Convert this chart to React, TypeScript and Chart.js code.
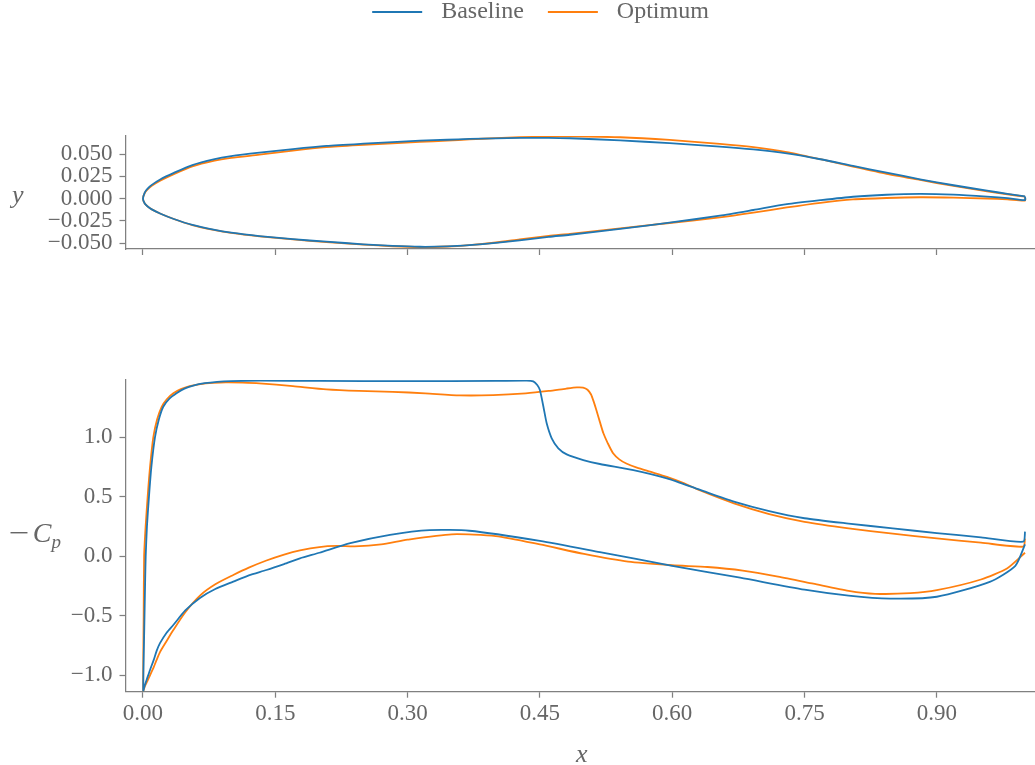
import React, { useEffect, useRef } from "react";
import { Chart, registerables } from "chart.js";

Chart.register(...registerables);

// ---- Airfoil geometry (chord fraction x, thickness y) ----
const geomX = [0, 0.002, 0.005, 0.01, 0.02, 0.035, 0.056, 0.08, 0.1, 0.132, 0.17, 0.208, 0.25, 0.283, 0.314, 0.345, 0.37, 0.4, 0.427, 0.46, 0.484, 0.541, 0.597, 0.654, 0.692, 0.73, 0.768, 0.805, 0.843, 0.881, 0.919, 0.957, 0.98, 1.0];
const baseUpperY = [0, 0.0069, 0.011, 0.0155, 0.0219, 0.029, 0.0378, 0.0442, 0.0478, 0.0517, 0.0557, 0.0592, 0.0618, 0.0636, 0.0651, 0.0662, 0.0671, 0.0678, 0.0683, 0.0684, 0.0679, 0.0655, 0.0623, 0.0585, 0.0553, 0.0508, 0.0443, 0.0368, 0.0293, 0.0218, 0.0151, 0.009, 0.0055, 0.0025];
const baseLowerY = [0, -0.0054, -0.0085, -0.012, -0.0169, -0.0228, -0.0294, -0.0348, -0.0382, -0.042, -0.0455, -0.0483, -0.0512, -0.053, -0.054, -0.0536, -0.0522, -0.0497, -0.0468, -0.0428, -0.0405, -0.034, -0.027, -0.019, -0.0127, -0.0062, -0.0017, 0.0022, 0.0044, 0.0053, 0.0045, 0.0024, 0.0007, -0.0015];
const optUpperY = [0, 0.0064, 0.0102, 0.0144, 0.0204, 0.0276, 0.0363, 0.0425, 0.0458, 0.0494, 0.054, 0.0578, 0.0604, 0.0622, 0.0637, 0.0652, 0.0666, 0.068, 0.069, 0.0698, 0.07, 0.069, 0.066, 0.0616, 0.0579, 0.0524, 0.0443, 0.036, 0.0278, 0.021, 0.0143, 0.0083, 0.005, 0.0022];
const optLowerY = [0, -0.0054, -0.0085, -0.012, -0.0169, -0.0228, -0.0296, -0.035, -0.0385, -0.0423, -0.0458, -0.0487, -0.0515, -0.0534, -0.0543, -0.0537, -0.0521, -0.0492, -0.0458, -0.0418, -0.0395, -0.0334, -0.0273, -0.021, -0.0157, -0.0098, -0.0046, -0.0008, 0.0008, 0.0016, 0.0012, 0.0002, -0.0008, -0.0022];

// ---- Pressure distribution (-Cp) ----
const baseCpUpperX = [0.0003, 0.0015, 0.0025, 0.0031, 0.0045, 0.0068, 0.0095, 0.0136, 0.018, 0.023, 0.03, 0.038, 0.047, 0.057, 0.07, 0.084, 0.1, 0.133, 0.2, 0.3, 0.4, 0.435, 0.4425, 0.447, 0.45, 0.454, 0.4577, 0.4634, 0.4709, 0.4804, 0.4992, 0.518, 0.556, 0.594, 0.631, 0.67, 0.71, 0.75, 0.8, 0.85, 0.9, 0.95, 0.998, 1.0];
const baseCpUpper = [-1.13, -0.6, -0.2, 0.0, 0.25, 0.5, 0.75, 1.0, 1.15, 1.257, 1.325, 1.37, 1.41, 1.435, 1.455, 1.467, 1.473, 1.476, 1.474, 1.472, 1.474, 1.476, 1.47, 1.44, 1.397, 1.257, 1.118, 0.992, 0.908, 0.857, 0.809, 0.776, 0.725, 0.655, 0.56, 0.46, 0.38, 0.32, 0.275, 0.235, 0.195, 0.16, 0.123, 0.207];
const baseCpLowerX = [0.0003, 0.002, 0.005, 0.008, 0.012, 0.0155, 0.0193, 0.027, 0.0344, 0.048, 0.0646, 0.082, 0.1024, 0.12, 0.14, 0.16, 0.178, 0.2, 0.235, 0.28, 0.325, 0.37, 0.45, 0.518, 0.6, 0.677, 0.75, 0.8, 0.847, 0.9, 0.96, 0.989, 1.0];
const baseCpLower = [-1.13, -1.085, -1.02, -0.955, -0.875, -0.795, -0.73, -0.64, -0.577, -0.455, -0.35, -0.275, -0.213, -0.16, -0.115, -0.065, -0.017, 0.03, 0.11, 0.18, 0.22, 0.215, 0.13, 0.036, -0.08, -0.18, -0.28, -0.33, -0.355, -0.34, -0.215, -0.08, 0.1];
const optCpUpperX = [0.0003, 0.0008, 0.0013, 0.003, 0.0053, 0.008, 0.0117, 0.016, 0.0212, 0.027, 0.0344, 0.043, 0.053, 0.065, 0.08, 0.094, 0.113, 0.132, 0.17, 0.208, 0.245, 0.283, 0.32, 0.359, 0.397, 0.434, 0.46, 0.48, 0.492, 0.499, 0.504, 0.508, 0.511, 0.514, 0.518, 0.522, 0.527, 0.533, 0.54, 0.548, 0.56, 0.575, 0.594, 0.613, 0.631, 0.67, 0.71, 0.75, 0.8, 0.85, 0.9, 0.95, 0.998, 1.0];
const optCpUpper = [-1.13, -0.5, 0.0, 0.25, 0.5, 0.75, 1.0, 1.15, 1.257, 1.32, 1.37, 1.405, 1.43, 1.447, 1.457, 1.462, 1.46, 1.454, 1.43, 1.403, 1.39, 1.383, 1.37, 1.353, 1.355, 1.37, 1.39, 1.41, 1.42, 1.418, 1.4, 1.36, 1.3, 1.23, 1.13, 1.034, 0.95, 0.866, 0.815, 0.78, 0.745, 0.711, 0.668, 0.615, 0.555, 0.445, 0.355, 0.29, 0.235, 0.19, 0.15, 0.115, 0.081, 0.15];
const optCpLowerX = [0.0003, 0.002, 0.005, 0.008, 0.012, 0.0155, 0.0193, 0.027, 0.0344, 0.048, 0.0646, 0.082, 0.1024, 0.12, 0.14, 0.16, 0.178, 0.2, 0.22, 0.24, 0.27, 0.3, 0.35, 0.4, 0.45, 0.5, 0.55, 0.6, 0.64, 0.68, 0.72, 0.76, 0.8, 0.83, 0.87, 0.9, 0.95, 0.98, 1.0];
const optCpLower = [-1.13, -1.095, -1.05, -1.0, -0.935, -0.87, -0.805, -0.71, -0.62, -0.47, -0.33, -0.235, -0.157, -0.095, -0.035, 0.015, 0.05, 0.078, 0.087, 0.083, 0.1, 0.14, 0.185, 0.17, 0.1, 0.02, -0.045, -0.075, -0.09, -0.12, -0.17, -0.23, -0.29, -0.315, -0.31, -0.285, -0.195, -0.1, 0.03];

// ---- Axis ticks ----
const xTicks = [0, 0.15, 0.3, 0.45, 0.6, 0.75, 0.9];
const shapeTicks = [-0.05, -0.025, 0, 0.025, 0.05];
const cpTicks = [-1.0, -0.5, 0.0, 0.5, 1.0];

const FONT = "'Liberation Serif', 'DejaVu Serif', serif";
const TEXT = "#666666";
const SPINE = "#808080";
const BLUE = "#1f77b4";
const ORANGE = "#ff7f0e";
const LINE_W = 1.8;

const X_MIN = -0.0198;
const X_MAX = 1.0113;

function fmt(v: number, digits: number): string {
  const s = Math.abs(v).toFixed(digits);
  return v < -1e-9 ? "\u2212" + s : s;
}

// Closed outline: upper surface trailing edge -> leading edge, then lower surface back to trailing edge.
function outline(ux: number[], uy: number[], lx: number[], ly: number[], close: boolean) {
  const pts: { x: number; y: number }[] = [];
  for (let i = ux.length - 1; i >= 0; i--) pts.push({ x: ux[i], y: uy[i] });
  for (let i = 1; i < lx.length; i++) pts.push({ x: lx[i], y: ly[i] });
  if (close) pts.push({ x: ux[ux.length - 1], y: uy[uy.length - 1] });
  return pts;
}

function legendSwatch(color: string): HTMLCanvasElement {
  const c = document.createElement("canvas");
  c.width = 81;
  c.height = 6;
  const g = c.getContext("2d")!;
  g.strokeStyle = color;
  g.lineWidth = LINE_W;
  g.beginPath();
  g.moveTo(24, 3);
  g.lineTo(74, 3);
  g.stroke();
  return c;
}

const tickFont = { family: FONT, size: 23 };

function xScale(showLabels: boolean, height: number) {
  return {
    type: "linear" as const,
    min: X_MIN,
    max: X_MAX,
    afterBuildTicks: (s: any) => {
      s.ticks = xTicks.map((v) => ({ value: v }));
    },
    afterFit: (s: any) => {
      s.height = height;
    },
    ticks: {
      display: showLabels,
      font: tickFont,
      color: TEXT,
      padding: 2,
      maxRotation: 0,
      autoSkip: false,
      callback: (v: any) => fmt(Number(v), 2),
    },
    grid: { drawOnChartArea: false, drawTicks: true, tickLength: 6, tickColor: SPINE, tickWidth: 1.25 },
    border: { color: SPINE, width: 1.25 },
  };
}

function yScale(min: number, max: number, ticks: number[], digits: number, width: number) {
  return {
    type: "linear" as const,
    min,
    max,
    afterBuildTicks: (s: any) => {
      s.ticks = ticks.map((v) => ({ value: v }));
    },
    afterFit: (s: any) => {
      s.width = width;
    },
    ticks: {
      font: tickFont,
      color: TEXT,
      padding: 7,
      autoSkip: false,
      callback: (v: any) => fmt(Number(v), digits),
    },
    grid: { drawOnChartArea: false, drawTicks: true, tickLength: 6, tickColor: SPINE, tickWidth: 1.25 },
    border: { color: SPINE, width: 1.25 },
  };
}

const LEGEND_PAD_LEFT = 22;

export default function App() {
  const shapeRef = useRef<HTMLCanvasElement | null>(null);
  const cpRef = useRef<HTMLCanvasElement | null>(null);

  useEffect(() => {
    Chart.defaults.font.family = FONT;
    const lineDs = (label: string, color: string, data: any[], swatch?: HTMLCanvasElement) => ({
      label,
      data,
      borderColor: color,
      backgroundColor: color,
      borderWidth: LINE_W,
      pointRadius: 0,
      pointHoverRadius: 0,
      pointStyle: swatch as any,
      showLine: true,
      tension: 0.22,
      fill: false,
    });

    const shape = new Chart(shapeRef.current!, {
      type: "scatter",
      data: {
        datasets: [
          lineDs("Baseline", BLUE, outline(geomX, baseUpperY, geomX, baseLowerY, true), legendSwatch(BLUE)),
          lineDs("Optimum", ORANGE, outline(geomX, optUpperY, geomX, optLowerY, true), legendSwatch(ORANGE)),
        ],
      },
      options: {
        responsive: false,
        animation: false,
        layout: { padding: { left: LEGEND_PAD_LEFT, right: 0, top: 0, bottom: 0 } },
        plugins: {
          tooltip: { enabled: false },
          legend: {
            position: "top",
            labels: {
              usePointStyle: true,
              pointStyleWidth: 81,
              padding: 0,
              color: TEXT,
              font: { family: FONT, size: 24 },
            },
          },
        },
        scales: {
          x: xScale(false, 41),
          gap: {
            type: "linear",
            position: "top",
            display: true,
            grid: { display: false },
            border: { display: false },
            ticks: { display: false },
            afterFit: (s: any) => {
              s.height = 136 - (s.chart.legend ? s.chart.legend.height : 0);
            },
          },
          y: yScale(-0.0565, 0.0704, shapeTicks, 3, 125.5 - LEGEND_PAD_LEFT),
        },
      } as any,
    });

    const cp = new Chart(cpRef.current!, {
      type: "scatter",
      data: {
        datasets: [
          lineDs("Baseline", BLUE, outline(baseCpUpperX, baseCpUpper, baseCpLowerX, baseCpLower, false)),
          lineDs("Optimum", ORANGE, outline(optCpUpperX, optCpUpper, optCpLowerX, optCpLower, false)),
        ],
      },
      options: {
        responsive: false,
        animation: false,
        layout: { padding: { left: 0, right: 0, top: 90, bottom: 0 } },
        plugins: { tooltip: { enabled: false }, legend: { display: false } },
        scales: {
          x: xScale(true, 475 - 401.7),
          y: yScale(-1.138, 1.482, cpTicks, 1, 125.5),
        },
      } as any,
    });

    return () => {
      shape.destroy();
      cp.destroy();
    };
  }, []);

  const label: React.CSSProperties = {
    position: "absolute",
    fontFamily: FONT,
    fontStyle: "italic",
    fontSize: 26,
    color: TEXT,
    lineHeight: 1,
    whiteSpace: "nowrap",
  };

  return (
    <div style={{ position: "fixed", left: 0, top: 0, width: 1035, height: 765, background: "#fff" }}>
      <canvas ref={shapeRef} width={1035} height={290} style={{ position: "absolute", left: 0, top: 0 }} />
      <canvas ref={cpRef} width={1035} height={475} style={{ position: "absolute", left: 0, top: 290 }} />
      <div style={{ ...label, left: 12, top: 182 }}>y</div>
      <div style={{ ...label, left: 9, top: 519, fontSize: 28 }}>
        <span
          style={{
            fontStyle: "normal",
            display: "inline-block",
            transform: "scaleX(1.3)",
            transformOrigin: "left center",
            marginRight: 8,
          }}
        >
          {"\u2212"}
        </span>
        C<sub style={{ fontSize: 19, verticalAlign: "-6px" }}>p</sub>
      </div>
      <div style={{ ...label, left: 576, top: 741 }}>x</div>
    </div>
  );
}
